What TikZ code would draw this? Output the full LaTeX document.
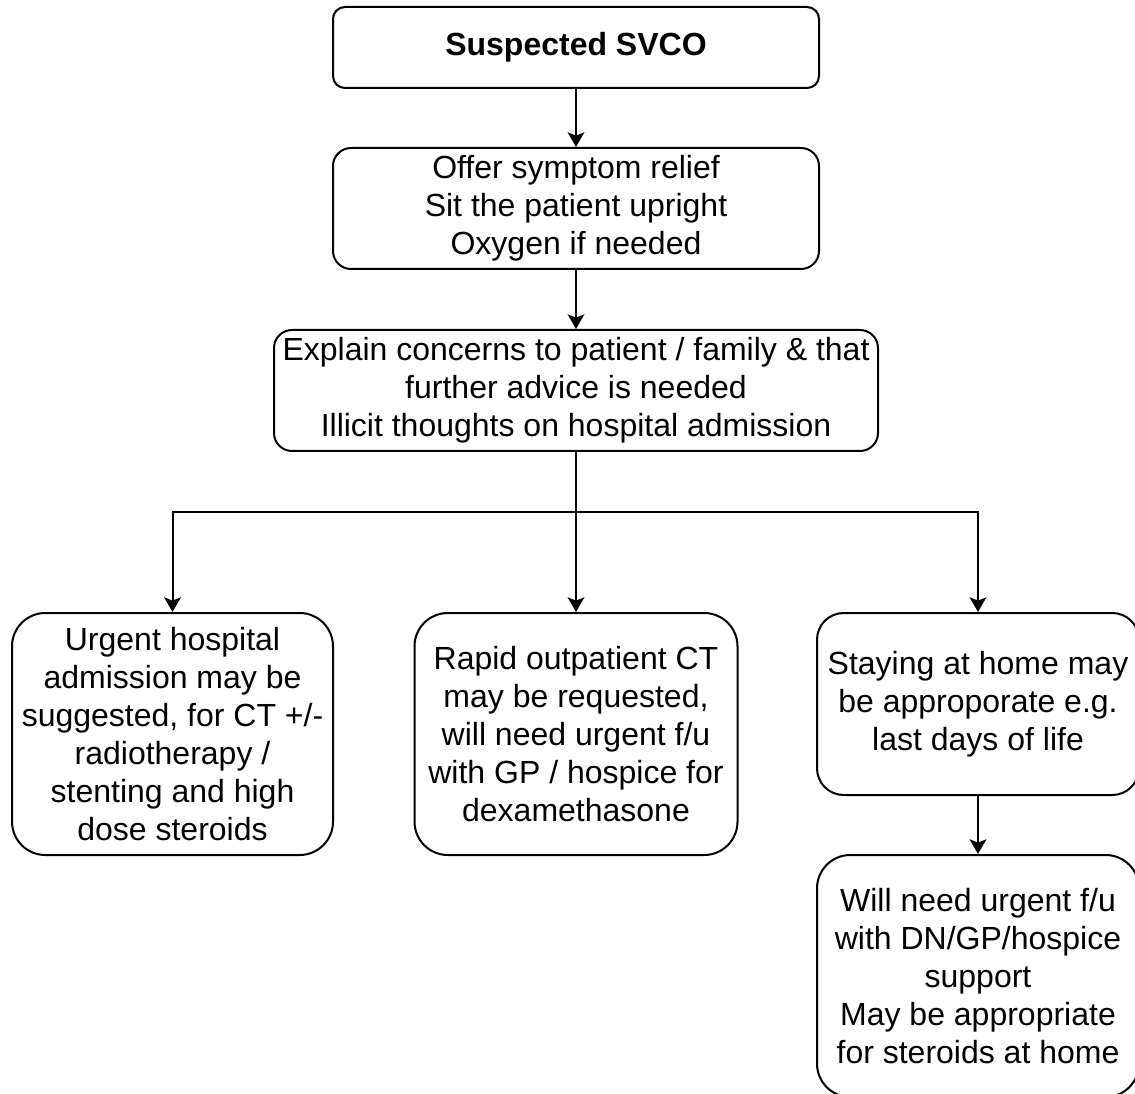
\documentclass[tikz,border=0pt]{standalone}
\usepackage{fontspec}
\setmainfont{Liberation Sans}
\usetikzlibrary{arrows.meta}

\tikzset{every picture/.style={line width=1.5pt}}
\tikzset{
  flowbox/.style={draw, align=center, inner sep=0.75pt, font=\fontsize{24}{28.5}\selectfont},
  flowarrow/.style={-{Stealth[length=11pt,width=12.5pt,inset=2.5pt]}}
}

\begin{document}
\begin{tikzpicture}[x=0.75pt,y=0.75pt,yscale=-1,xscale=1]
\useasboundingbox (0,0) rectangle (1135,1094);

%Rounded Rect: suspected
\draw (576,47.5) node [flowbox, minimum width=364.5pt, minimum height=60.75pt, rounded corners=9pt] (svco) {\textbf{Suspected SVCO}};
%Rounded Rect: relief
\draw (576,208.5) node [flowbox, minimum width=364.5pt, minimum height=90.75pt, rounded corners=13.5pt] (relief) {Offer symptom relief\\Sit the patient upright\\Oxygen if needed};
%Rounded Rect: explain
\draw (576,390.5) node [flowbox, minimum width=453pt, minimum height=90.75pt, rounded corners=13.5pt] (explain) {Explain concerns to patient / family \& that\\further advice is needed\\Illicit thoughts on hospital admission};
%Rounded Rect: admission
\draw (172.5,734) node [flowbox, minimum width=240.75pt, minimum height=181.5pt, rounded corners=25pt] (urgent) {Urgent hospital\\admission may be\\suggested, for CT +/-\\radiotherapy /\\stenting and high\\dose steroids};
%Rounded Rect: outpatient
\draw (576,734) node [flowbox, minimum width=242.25pt, minimum height=181.5pt, rounded corners=25pt] (rapid) {Rapid outpatient CT\\may be requested,\\will need urgent f/u\\with GP / hospice for\\dexamethasone};
%Rounded Rect: home
\draw (978,704) node [flowbox, minimum width=241.5pt, minimum height=136.5pt, rounded corners=20pt] (home) {Staying at home may\\be approporate e.g.\\last days of life};
%Rounded Rect: follow up
\draw (978,976) node [flowbox, minimum width=241.5pt, minimum height=181.5pt, rounded corners=25pt] (support) {Will need urgent f/u\\with DN/GP/hospice\\support\\May be appropriate\\for steroids at home};

\coordinate (fork) at (576,512);

%Straight Lines
\draw [flowarrow] (svco) -- (relief);
\draw [flowarrow] (relief) -- (explain);
\draw [flowarrow] (explain) -- (rapid);
\draw [flowarrow] (fork) -| (urgent);
\draw [flowarrow] (fork) -| (home);
\draw [flowarrow] (home) -- (support);

\end{tikzpicture}
\end{document}
